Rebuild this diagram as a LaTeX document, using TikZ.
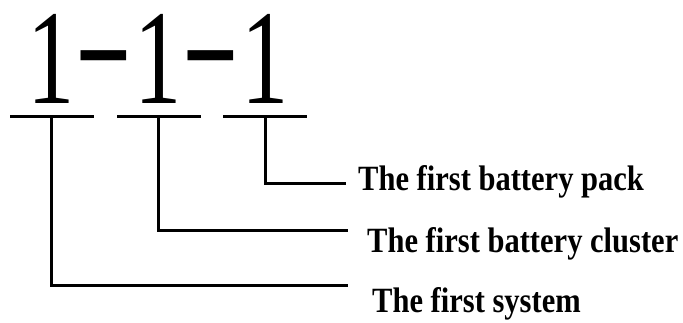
\documentclass[tikz,border=0pt]{standalone}
\usepackage{fontspec}
\setmainfont{Liberation Serif}
\usetikzlibrary{positioning}
\tikzset{digit/.style={inner sep=0pt,anchor=base,xscale=0.7,
        font=\fontsize{135}{135}\selectfont},
    sepmark/.style={inner sep=0pt,anchor=base,xscale=1.3,
        font=\fontsize{135}{135}\selectfont},
    bar/.style={fill=black,inner sep=0pt,minimum width=84pt,minimum height=3pt},
    link/.style={draw,line width=3pt,line join=miter,-},
    lbl/.style={inner sep=0pt,anchor=base west,xscale=0.86,
        font=\fontsize{35.5}{40}\selectfont\bfseries}}

\begin{document}
\begin{tikzpicture}[x=1pt,y=-1pt]
    \useasboundingbox (0,0) rectangle (683,322);

    % The code number 1-1-1
    \node[digit] (d1) at (51.5,103) {1};
    \node[digit] (d2) at (158.5,103) {1};
    \node[digit] (d3) at (265,103) {1};
    \node[sepmark] (m1) at (104,87) {-};
    \node[sepmark] (m2) at (211,87) {-};

    % Bars under each digit
    \node[bar, below=11.5pt of d1] (u1) {};
    \node[bar, below=11.5pt of d2] (u2) {};
    \node[bar, below=11.5pt of d3] (u3) {};

    % Ends of the leader lines
    \coordinate (e3) at (346,183);
    \coordinate (e2) at (348,230);
    \coordinate (e1) at (348,285);

    % Meaning of each digit
    \node[lbl] (pack)    at (358,190) {The first battery pack};
    \node[lbl] (cluster) at (367,252) {The first battery cluster};
    \node[lbl] (system)  at (372,312) {The first system};

    % Leader lines
    \draw[link] (u3.south) |- (e3);
    \draw[link] (u2.south) |- (e2);
    \draw[link] (u1.south) |- (e1);
\end{tikzpicture}
\end{document}
